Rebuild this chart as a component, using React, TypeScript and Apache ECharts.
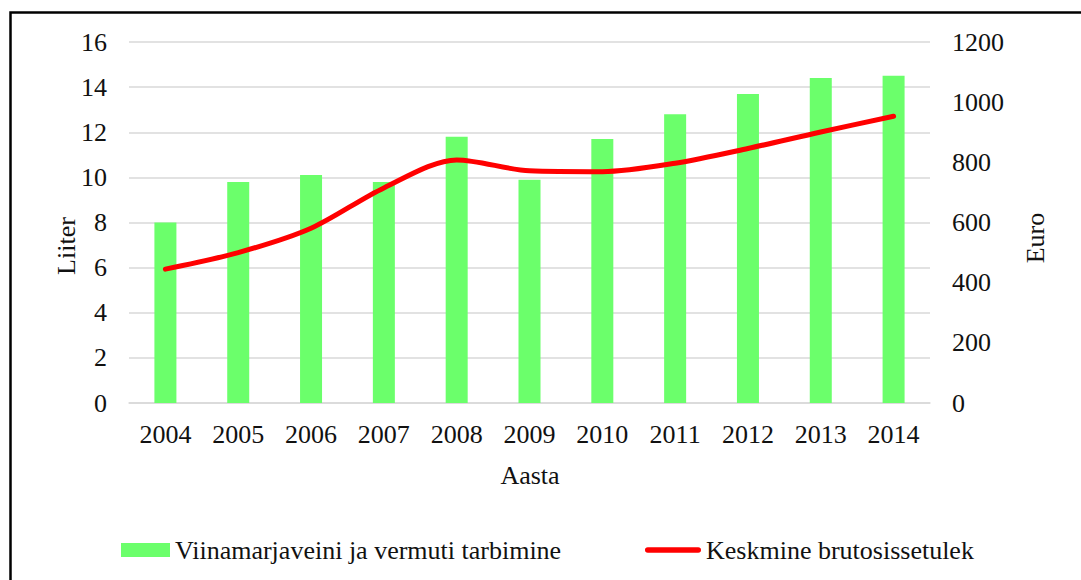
import React, { useEffect, useRef } from "react";
import * as echarts from "echarts";

const years = ["2004", "2005", "2006", "2007", "2008", "2009", "2010", "2011", "2012", "2013", "2014"];
const wineLiters = [8.0, 9.8, 10.1, 9.8, 11.8, 9.9, 11.7, 12.8, 13.7, 14.4, 14.5];
const grossIncome = [445, 500, 581, 715, 808, 772, 769, 797, 846, 901, 953];
const seriesNames = ["Viinamarjaveini ja vermuti tarbimine", "Keskmine brutosissetulek"];

const FONT = "Liberation Serif, Times New Roman, serif";
const FS = 26;
const TXT = "#111";

export default function App() {
  const ref = useRef<HTMLDivElement>(null);
  useEffect(() => {
    if (!ref.current) return;
    const chart = echarts.init(ref.current, undefined, { renderer: "svg" });
    const legendText = { fontFamily: FONT, fontSize: FS, color: TXT };
    chart.setOption({
      animation: false,
      backgroundColor: "#ffffff",
      textStyle: { fontFamily: FONT },
      grid: { left: 129, right: 151, top: 42, bottom: 177 },
      legend: [
        {
          left: 116,
          top: 532,
          itemWidth: 49,
          itemHeight: 14,
          itemGap: 5,
          textStyle: legendText,
          data: [{ name: seriesNames[0], icon: "rect" }],
        },
        {
          left: 640,
          top: 532,
          itemWidth: 56,
          itemHeight: 14,
          symbolKeepAspect: true,
          textStyle: legendText,
          data: [
            {
              name: seriesNames[1],
              icon: "path://M2.5,0 L47.5,0 A2.5,2.5 0 0 1 47.5,5 L2.5,5 A2.5,2.5 0 0 1 2.5,0 Z",
              itemStyle: { color: "#ff0000", borderWidth: 0 },
            },
          ],
        },
      ],
      xAxis: {
        type: "category",
        data: years,
        axisLine: { show: true, lineStyle: { color: "#d9d9d9", width: 1.5 } },
        axisTick: { show: false },
        axisLabel: { fontFamily: FONT, fontSize: FS, color: TXT, margin: 18 },
      },
      yAxis: [
        {
          type: "value",
          min: 0,
          max: 16,
          interval: 2,
          axisLine: { show: false },
          axisTick: { show: false },
          axisLabel: { fontFamily: FONT, fontSize: FS, color: TXT, margin: 22 },
          splitLine: { lineStyle: { color: "#d9d9d9", width: 1.5 } },
        },
        {
          type: "value",
          min: 0,
          max: 1200,
          interval: 200,
          position: "right",
          axisLine: { show: false },
          axisTick: { show: false },
          axisLabel: {
            fontFamily: FONT,
            fontSize: FS,
            color: TXT,
            margin: 22,
            formatter: (v: number) => String(v),
          },
          splitLine: { show: false },
        },
      ],
      series: [
        {
          name: seriesNames[0],
          type: "bar",
          data: wineLiters,
          yAxisIndex: 0,
          barWidth: 22,
          itemStyle: { color: "#6bff6b" },
        },
        {
          name: seriesNames[1],
          type: "line",
          data: grossIncome,
          yAxisIndex: 1,
          smooth: 0.3,
          symbol: "none",
          lineStyle: { color: "#ff0000", width: 5, cap: "round" },
          itemStyle: { color: "#ff0000" },
        },
      ],
      graphic: [
        {
          type: "rect",
          shape: { x: 10.5, y: 12.5, width: 1200, height: 700 },
          style: { fill: "none", stroke: "#000", lineWidth: 2.5 },
          silent: true,
        },
        {
          type: "text",
          x: 66,
          y: 246,
          rotation: Math.PI / 2,
          style: {
            text: "Liiter",
            fontFamily: FONT,
            fontSize: FS,
            fill: TXT,
            align: "center",
            verticalAlign: "middle",
          },
        },
        {
          type: "text",
          x: 1035,
          y: 238,
          rotation: Math.PI / 2,
          style: {
            text: "Euro",
            fontFamily: FONT,
            fontSize: FS,
            fill: TXT,
            align: "center",
            verticalAlign: "middle",
          },
        },
        {
          type: "text",
          x: 530,
          y: 475,
          style: {
            text: "Aasta",
            fontFamily: FONT,
            fontSize: FS,
            fill: TXT,
            align: "center",
            verticalAlign: "middle",
          },
        },
      ],
    });
    return () => chart.dispose();
  }, []);
  return (
    <div
      ref={ref}
      style={{ position: "fixed", left: 0, top: 0, width: 1081, height: 580 }}
    />
  );
}
